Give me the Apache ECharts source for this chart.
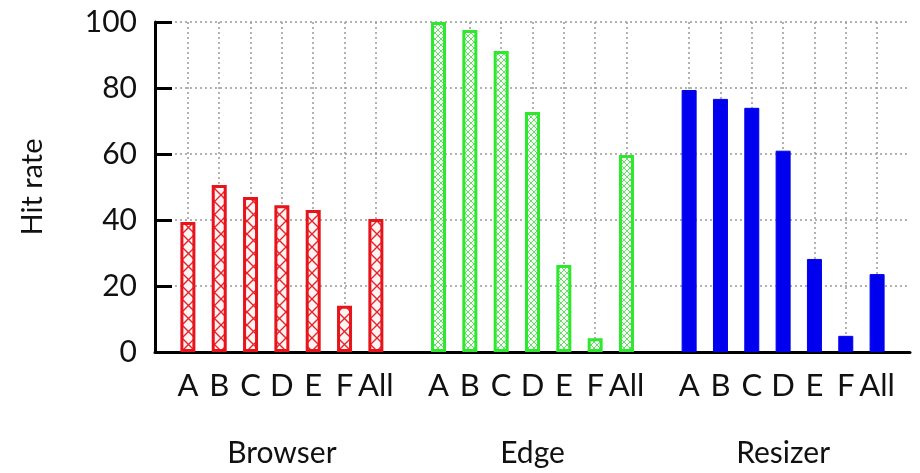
<!DOCTYPE html>
<html>
<head>
<meta charset="utf-8">
<script src="https://cdn.jsdelivr.net/npm/echarts@6/dist/echarts.min.js"></script>
<style>
  html, body { margin: 0; padding: 0; background: #fff; }
  #chart { width: 920px; height: 473px; }
</style>
</head>
<body>
<div id="chart"></div>
<script>
// Hit rate per client, grouped by cache layer
const groups = ['Browser', 'Edge', 'Resizer'];
const clients = ['A', 'B', 'C', 'D', 'E', 'F', 'All'];
const browserHits = [39.4, 50.6, 47.0, 44.5, 43.0, 14.0, 40.3];
const edgeHits = [100, 97.6, 91.2, 72.7, 26.4, 4.2, 59.7];
const resizerHits = [79.4, 76.7, 74.0, 61.0, 28.2, 4.9, 23.6];
const yTicks = [0, 20, 40, 60, 80, 100];

// each group takes 7 slots plus one empty slot
const slotsPerGroup = clients.length + 1;
const slotOf = (g, i) => g * slotsPerGroup + i;
const barSlots = [];
groups.forEach((g, gi) => clients.forEach((c, i) => barSlots.push(slotOf(gi, i))));
const slotLabel = {};
groups.forEach((g, gi) => clients.forEach((c, i) => { slotLabel[slotOf(gi, i)] = c; }));
const groupCenters = groups.map((g, gi) => slotOf(gi, (clients.length - 1) / 2));
const groupLabel = {};
groups.forEach((g, gi) => { groupLabel[groupCenters[gi]] = g; });

function hatch(size, color, lineWidth, bg) {
  const c = document.createElement('canvas');
  c.width = size; c.height = size;
  const ctx = c.getContext('2d');
  ctx.fillStyle = bg;
  ctx.fillRect(0, 0, size, size);
  ctx.strokeStyle = color;
  ctx.lineWidth = lineWidth;
  ctx.beginPath();
  ctx.moveTo(0, 0); ctx.lineTo(size, size);
  ctx.moveTo(size, 0); ctx.lineTo(0, size);
  ctx.stroke();
  return c;
}

const font = 'Lato, "Open Sans", sans-serif';

function barSeries(name, values, style) {
  return {
    name: name,
    type: 'bar',
    barWidth: 15,
    barGap: '-100%',
    data: values.map((v, i) => [slotOf(groups.indexOf(name), i), v]),
    itemStyle: style
  };
}

const chart = echarts.init(document.getElementById('chart'));
chart.setOption({
  animation: false,
  grid: { left: 155, right: 10, top: 22, bottom: 121 },
  xAxis: [{
    type: 'value',
    min: -1.05,
    max: 23.05,
    axisLine: { show: true, onZero: false, lineStyle: { color: '#000', width: 3 } },
    axisTick: { show: false, customValues: barSlots },
    axisLabel: {
      customValues: barSlots,
      formatter: v => slotLabel[v] || '',
      margin: 18,
      fontFamily: font,
      fontSize: 31,
      color: '#111'
    },
    splitLine: { show: true, lineStyle: { color: '#999', type: [2, 3], width: 1.5 } }
  }, {
    type: 'value',
    position: 'bottom',
    min: -1.05,
    max: 23.05,
    axisLine: { show: false },
    axisTick: { show: false, customValues: groupCenters },
    axisLabel: {
      customValues: groupCenters,
      formatter: v => groupLabel[v] || '',
      margin: 86,
      fontFamily: font,
      fontSize: 30,
      color: '#111'
    },
    splitLine: { show: false }
  }],
  yAxis: {
    type: 'value',
    min: 0,
    max: 100,
    interval: 20,
    name: 'Hit rate',
    nameLocation: 'middle',
    nameGap: 108,
    nameTextStyle: { fontFamily: font, fontSize: 29, color: '#111' },
    axisLine: { show: true, onZero: false, lineStyle: { color: '#000', width: 3 } },
    axisTick: { show: true, inside: true, length: 17, lineStyle: { color: '#000', width: 3 } },
    axisLabel: {
      margin: 18,
      fontFamily: font,
      fontSize: 30,
      color: '#111',
      formatter: v => yTicks.includes(v) ? String(v) : ''
    },
    splitLine: { show: true, lineStyle: { color: '#999', type: [2, 3], width: 1.5 } }
  },
  series: [
    barSeries('Browser', browserHits, {
      color: { image: hatch(13, '#e0262a', 1.4, '#fff3f3'), repeat: 'repeat' },
      borderColor: '#e8141c',
      borderWidth: 3
    }),
    barSeries('Edge', edgeHits, {
      color: { image: hatch(6, 'rgba(70,200,70,0.75)', 1, '#f2fff2'), repeat: 'repeat' },
      borderColor: '#2ee82e',
      borderWidth: 3
    }),
    barSeries('Resizer', resizerHits, {
      color: '#0000ee',
      borderColor: '#0000ee',
      borderWidth: 1
    })
  ]
});
</script>
</body>
</html>
